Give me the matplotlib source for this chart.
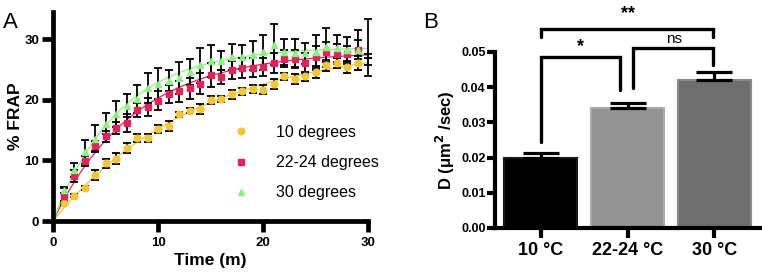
import numpy as np
import matplotlib
matplotlib.use("Agg")
import matplotlib.pyplot as plt

plt.rcParams['font.family'] = ['Liberation Sans', 'DejaVu Sans']

# ---------------- Panel A data ----------------
time_min = list(range(1, 31))
frap_10 = [3.0, 4.2, 5.5, 7.6, 9.5, 10.3, 12.0, 13.7, 13.7, 15.2, 15.7, 17.6, 18.2, 18.5, 20.0,
           20.1, 20.9, 21.4, 21.8, 21.7, 22.6, 23.9, 23.5, 23.9, 24.6, 25.7, 26.1, 25.5, 26.1, 26.3]
err_10 = [0.3, 0.3, 0.3, 0.8, 0.7, 0.9, 0.8, 0.6, 0.7, 0.7, 0.8, 0.4, 0.4, 0.8, 0.6,
          0.5, 0.7, 0.6, 0.7, 0.7, 0.8, 0.6, 0.8, 0.7, 1.0, 0.9, 0.9, 1.0, 1.1, 0.6]
frap_22 = [4.2, 7.5, 9.9, 12.4, 14.0, 15.3, 16.2, 18.3, 18.8, 19.9, 21.0, 21.4, 21.9, 22.7, 24.1,
           23.8, 24.9, 25.3, 25.3, 25.4, 26.1, 26.8, 26.8, 26.1, 27.1, 27.9, 27.6, 27.6, 28.3, 27.3]
err_22 = [1.2, 1.0, 0.8, 0.8, 0.9, 1.0, 1.5, 1.2, 1.5, 1.6, 1.5, 1.8, 1.7, 1.8, 2.0,
          1.2, 1.5, 1.7, 1.6, 1.5, 1.6, 1.4, 1.5, 1.6, 1.8, 1.6, 1.6, 1.3, 1.6, 0.3]
frap_30 = [5.1, 8.4, 11.4, 13.6, 16.1, 17.7, 19.0, 20.2, 22.0, 22.7, 23.2, 23.6, 24.6, 25.7, 26.4,
           26.5, 27.1, 27.1, 27.4, 27.9, 29.1, 27.9, 27.7, 27.7, 27.9, 28.7, 28.5, 28.2, 28.3, 28.7]
err_30 = [0.5, 1.1, 2.0, 2.2, 1.7, 2.2, 1.9, 2.3, 2.5, 2.5, 1.7, 2.6, 2.1, 2.9, 2.7,
          1.5, 2.2, 2.0, 2.4, 2.9, 3.4, 2.2, 2.3, 1.7, 2.9, 3.2, 2.3, 2.2, 3.3, 4.7]
series_labels = ['10 degrees', '22-24 degrees', '30 degrees']

# ---------------- Panel B data ----------------
conditions = ['10 °C', '22-24 °C', '30 °C']
diff_coef = [0.0200, 0.0341, 0.0420]
diff_err = [0.0012, 0.0013, 0.0024]

# ---------------- Figure ----------------
fig = plt.figure(figsize=(7.62, 2.72), dpi=100)
axA = fig.add_axes([0.0696, 0.1875, 0.4134, 0.768])
axB = fig.add_axes([0.650, 0.162, 0.347, 0.647])

colors = ['#F3C537', '#E0245A', '#8CF27E']
markers = ['o', 's', '^']
msizes = [4.8, 4.6, 4.6]


def fit_assoc(t, y):
    t = np.asarray(t, float)
    y = np.asarray(y, float)
    best = None
    for k in np.linspace(0.01, 1.0, 2000):
        g = 1 - np.exp(-k * t)
        P = (g @ y) / (g @ g)
        r = np.sum((y - P * g) ** 2)
        if best is None or r < best[0]:
            best = (r, P, k)
    return best[1], best[2]


tt = np.array(time_min)
tfit = np.linspace(0, 30, 300)
for vals, errs, c, m, ms, lab in zip([frap_10, frap_22, frap_30], [err_10, err_22, err_30],
                                     colors, markers, msizes, series_labels):
    vals = np.array(vals)
    errs = np.array(errs)
    P, k = fit_assoc(tt, vals)
    axA.plot(tfit, P * (1 - np.exp(-k * tfit)), color=c, lw=0.9, zorder=2)
    inside = tt < 30
    axA.errorbar(tt, vals, yerr=errs, fmt='none', ecolor='black', elinewidth=1.3,
                 capsize=3, capthick=1.3, zorder=3, clip_on=False)
    axA.plot(tt[inside], vals[inside], linestyle='none', marker=m, ms=ms, color=c,
             mec=c, zorder=4, label=lab)

axA.set_xlim(0, 30)
axA.set_ylim(0, 34.5)
axA.set_xticks([0, 10, 20, 30])
axA.set_yticks([0, 10, 20, 30])
for s in ['top', 'right']:
    axA.spines[s].set_visible(False)
for s in ['left', 'bottom']:
    axA.spines[s].set_linewidth(3.4)
axA.tick_params(width=3.4, length=8, labelsize=9.5, pad=2)
axA.tick_params(axis='x', pad=3.5)
for lbl in axA.get_xticklabels() + axA.get_yticklabels():
    lbl.set_fontweight('bold')
axA.set_xlabel('Time (m)', fontsize=12.5, fontweight='bold', labelpad=3)
axA.set_ylabel('% FRAP', fontsize=12.5, fontweight='bold', labelpad=1)
leg = axA.legend(loc='upper left', bbox_to_anchor=(0.545, 0.49), frameon=False,
                 fontsize=11.5, handletextpad=1.6, labelspacing=0.95, handlelength=1.2,
                 markerscale=1.0, borderaxespad=0)
fig.text(0.004, 0.955, 'A', fontsize=16, va='top', ha='left')

# ---------------- Panel B ----------------
xpos = np.arange(len(conditions))
bar_fc = ['#000000', '#949494', '#6E6E6E']
bar_ec = ['#1a1a1a', '#ABABAB', '#8A8A8A']
axB.bar(xpos, diff_coef, width=0.85, color=bar_fc, edgecolor=bar_ec, linewidth=1.5, zorder=2)
axB.errorbar(xpos, diff_coef, yerr=[np.zeros(3), diff_err], fmt='none', ecolor='black',
             elinewidth=2.3, capsize=13, capthick=2.3, zorder=3)
axB.set_xlim(-0.52, 2.52)
axB.set_ylim(0, 0.05)
axB.set_yticks([0, 0.01, 0.02, 0.03, 0.04, 0.05])
axB.set_yticklabels(['0.00', '0.01', '0.02', '0.03', '0.04', '0.05'])
axB.set_xticks(xpos)
axB.set_xticklabels(conditions)
for s in ['top', 'right']:
    axB.spines[s].set_visible(False)
for s in ['left', 'bottom']:
    axB.spines[s].set_linewidth(3.0)
axB.tick_params(axis='y', width=3.0, length=6, labelsize=9, pad=1)
axB.tick_params(axis='x', width=3.0, length=7, labelsize=13, pad=3)
for lbl in axB.get_xticklabels() + axB.get_yticklabels():
    lbl.set_fontweight('bold')
axB.set_ylabel('D (μm$^{\\mathbf{2}}$ /sec)', fontsize=12, fontweight='bold', labelpad=3)

# significance brackets (data coordinates)
def bracket(x1, x2, ytop, y1, y2, text, ty, tx):
    axB.plot([x1, x1, x2, x2], [y1, ytop, ytop, y2], color='black', lw=2.4,
             solid_capstyle='round', solid_joinstyle='miter', clip_on=False, zorder=5)
    axB.text(tx, ty, text, ha='center', va='center', fontsize=13 if text != 'ns' else 11,
             fontweight='bold' if text != 'ns' else 'normal', clip_on=False)

bracket(0, 1.98, 0.0565, 0.0543, 0.0543, '**', 0.0610, 1.0)
bracket(0, 0.91, 0.0487, 0.0245, 0.0392, '*', 0.0515, 0.46)
bracket(1.06, 1.98, 0.0511, 0.0398, 0.0463, 'ns', 0.0538, 1.54)
fig.text(0.555, 0.955, 'B', fontsize=16, va='top', ha='left')

fig.savefig('out.png', dpi=100)
